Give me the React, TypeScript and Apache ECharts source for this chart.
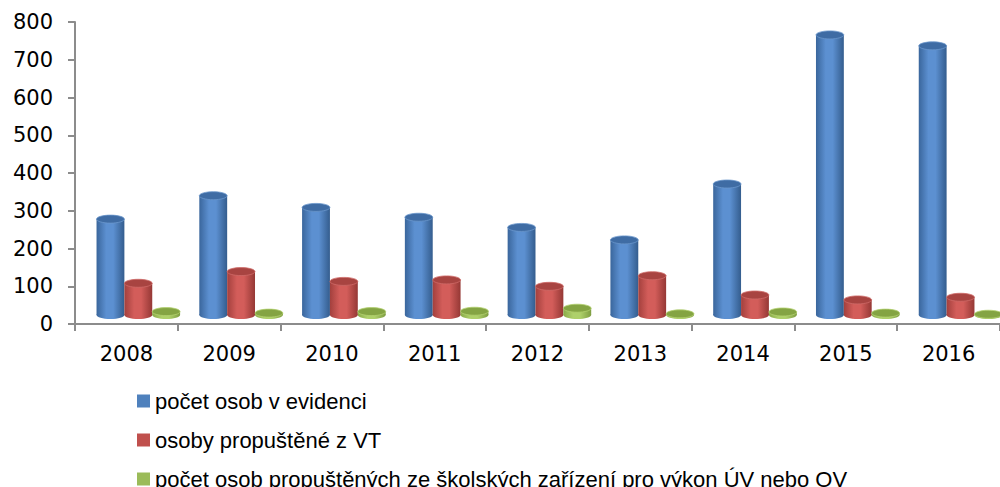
import React, { useEffect, useRef } from "react";
import * as echarts from "echarts";

const years = ["2008", "2009", "2010", "2011", "2012", "2013", "2014", "2015", "2016"];
const seriesNames = [
  "počet osob v evidenci",
  "osoby propuštěné z VT",
  "počet osob propuštěných ze školských zařízení pro výkon ÚV nebo OV",
];
const evidence = [254, 316, 285, 259, 232, 199, 347, 742, 713];
const released = [84, 115, 89, 93, 76, 104, 53, 40, 47];
const schools = [9, 5, 9, 10, 18, 3, 8, 5, 2];
const yTicks = [0, 100, 200, 300, 400, 500, 600, 700, 800];

const palettes = [
  { base: "#4F81BD", edgeL: "#3a669c", light: "#5c90d1", edgeR: "#345d8e", top: "#3f6ca4", rim: "#6b97cc" },
  { base: "#C0504D", edgeL: "#a3403d", light: "#d35d5a", edgeR: "#953835", top: "#a84441", rim: "#cf6b68" },
  { base: "#9BBB59", edgeL: "#8aab4a", light: "#aed06a", edgeR: "#7f9e42", top: "#84a443", rim: "#b3d16f" },
];

function makeRender(si: number) {
  const p = palettes[si];
  return (params: any, api: any) => {
    const idx = api.value(0);
    const v = api.value(1);
    const base = api.coord([idx, 0]);
    const topPt = api.coord([idx, v]);
    const catW = api.size([1, 0])[0];
    const bw = catW * 0.271;
    const dx = catW * 0.116;
    const dy = -9;
    const ry = 4;
    const cx = base[0] + (si - 1) * bw + dx;
    const y0 = base[1] + dy;
    const y1 = topPt[1] + dy;
    const grad = new echarts.graphic.LinearGradient(0, 0, 1, 0, [
      { offset: 0, color: p.edgeL },
      { offset: 0.35, color: p.light },
      { offset: 0.6, color: p.light },
      { offset: 1, color: p.edgeR },
    ]);
    return {
      type: "group",
      children: [
        { type: "ellipse", shape: { cx, cy: y0, rx: bw / 2, ry }, style: { fill: grad } },
        { type: "rect", shape: { x: cx - bw / 2, y: y1, width: bw, height: Math.max(0, y0 - y1) }, style: { fill: grad } },
        { type: "ellipse", shape: { cx, cy: y1, rx: bw / 2, ry }, style: { fill: p.top, stroke: p.rim, lineWidth: 0.8 } },
      ],
    };
  };
}

export default function App() {
  const ref = useRef<HTMLDivElement>(null);
  useEffect(() => {
    if (!ref.current) return;
    const chart = echarts.init(ref.current, null, { renderer: "svg" });
    const dataSets = [evidence, released, schools];
    chart.setOption({
      animation: false,
      backgroundColor: "#ffffff",
      grid: { left: 75, top: 22, width: 930, height: 302, containLabel: false },
      legend: {
        orient: "vertical",
        left: 137,
        top: 390,
        width: 800,
        height: 130,
        padding: 0,
        itemWidth: 13,
        itemHeight: 13,
        itemGap: 17,
        icon: "rect",
        textStyle: { fontFamily: "Liberation Sans", fontSize: 22, lineHeight: 21, color: "#000" },
        data: seriesNames,
      },
      xAxis: {
        type: "category",
        data: years,
        boundaryGap: true,
        axisLine: { lineStyle: { color: "#8c8c8c", width: 2 } },
        axisTick: { show: true, length: 7, lineStyle: { color: "#8c8c8c", width: 2 } },
        axisLabel: { fontFamily: "DejaVu Sans", fontSize: 21, color: "#000", margin: 19 },
        splitLine: { show: false },
      },
      yAxis: {
        type: "value",
        min: yTicks[0],
        max: yTicks[yTicks.length - 1],
        interval: 100,
        axisLine: { show: true, lineStyle: { color: "#8c8c8c", width: 2 } },
        axisTick: { show: true, length: 7, lineStyle: { color: "#8c8c8c", width: 2 } },
        axisLabel: { fontFamily: "DejaVu Sans", fontSize: 21, color: "#000", margin: 22 },
        splitLine: { show: false },
      },
      series: dataSets.map((arr, si) => ({
        type: "custom",
        name: seriesNames[si],
        itemStyle: { color: palettes[si].base },
        renderItem: makeRender(si),
        encode: { x: 0, y: 1 },
        data: arr.map((v, i) => [i, v]),
      })),
    });
    return () => chart.dispose();
  }, []);
  return (
    <div
      ref={ref}
      style={{ position: "fixed", left: 0, top: 0, width: 1000, height: 487 }}
    />
  );
}
